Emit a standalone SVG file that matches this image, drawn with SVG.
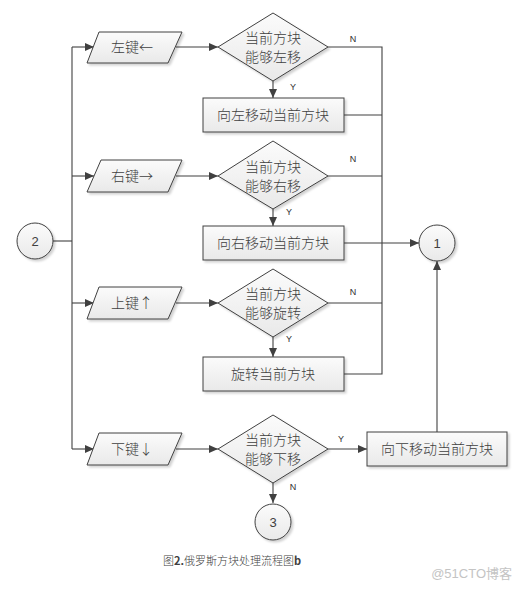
<svg xmlns="http://www.w3.org/2000/svg" width="523" height="589" viewBox="0 0 523 589">
<style>
.s{stroke:#404040;stroke-width:1;fill:url(#g);filter:url(#sh)}
.l{stroke:#404040;stroke-width:1.1;fill:none}
.a{marker-end:url(#ar)}
.t{font-family:"Noto Sans CJK SC","Liberation Sans",sans-serif;font-size:14px;font-weight:300;fill:#404040;text-anchor:middle}
.n{font-family:"Liberation Sans",sans-serif;font-size:13px;fill:#404040;text-anchor:middle}
.lb{font-family:"Liberation Sans",sans-serif;font-size:9px;fill:#303030;text-anchor:middle}
</style>
<defs>
<linearGradient id="g" x1="0" y1="0" x2="0" y2="1"><stop offset="0" stop-color="#fbfbfb"/><stop offset="1" stop-color="#e9e9e9"/></linearGradient>
<filter id="sh" x="-10%" y="-10%" width="130%" height="140%"><feDropShadow dx="2" dy="2" stdDeviation="1" flood-color="#000" flood-opacity="0.18"/></filter>
<marker id="ar" markerWidth="10" markerHeight="10" refX="9" refY="5" orient="auto" markerUnits="userSpaceOnUse"><path d="M0,1 L9,5 L0,9 Z" fill="#404040"/></marker>
</defs>
<rect width="523" height="589" fill="#fff"/>
<g id="connectors">
<path class="l" d="M53,241 H72"/>
<path class="l" d="M72,47 V449"/>
<path class="l a" d="M72,47 H94"/>
<path class="l a" d="M72,176 H94"/>
<path class="l a" d="M72,303 H94"/>
<path class="l a" d="M72,449 H94"/>
<path class="l a" d="M176,47 H218"/>
<path class="l a" d="M176,176 H218"/>
<path class="l a" d="M176,303 H218"/>
<path class="l a" d="M176,449 H218"/>
<path class="l a" d="M273,81 V98"/>
<path class="l a" d="M273,209 V226"/>
<path class="l a" d="M273,337 V357"/>
<path class="l a" d="M273,483 V503"/>
<path class="l" d="M328,47 H382 V374 H344"/>
<path class="l" d="M328,176 H382"/>
<path class="l" d="M328,303 H382"/>
<path class="l" d="M344,115 H382"/>
<path class="l a" d="M344,243 H419"/>
<path class="l a" d="M328,449 H367"/>
<path class="l a" d="M437,432 V261"/>
<text class="lb" x="353" y="42">N</text>
<text class="lb" x="353" y="162">N</text>
<text class="lb" x="353" y="295">N</text>
<text class="lb" x="293" y="90">Y</text>
<text class="lb" x="289" y="215">Y</text>
<text class="lb" x="289" y="342">Y</text>
<text class="lb" x="341" y="442">Y</text>
<text class="lb" x="293" y="490">N</text>
</g>
<g id="c2"><circle class="s" cx="35" cy="241" r="18"/><text class="n" x="35" y="246">2</text></g>
<g id="k1"><polygon class="s" points="99,32 182,32 168,63 87,63"/><text class="t" x="132" y="52">左键←</text></g>
<g id="k2"><polygon class="s" points="101,160 182,160 168,192 87,192"/><text class="t" x="132" y="181">右键→</text></g>
<g id="k3"><polygon class="s" points="99,287 182,287 168,319 87,319"/><text class="t" x="132" y="308">上键↑</text></g>
<g id="k4"><polygon class="s" points="99,433 182,433 168,465 87,465"/><text class="t" x="132" y="454">下键↓</text></g>
<g id="d1"><polygon class="s" points="273,13 328,47 273,81 218,47"/><text class="t" x="273" y="43">当前方块</text><text class="t" x="273" y="62">能够左移</text></g>
<g id="d2"><polygon class="s" points="273,141 328,176 273,209 218,176"/><text class="t" x="273" y="172">当前方块</text><text class="t" x="273" y="191">能够右移</text></g>
<g id="d3"><polygon class="s" points="273,269 328,303 273,337 218,303"/><text class="t" x="273" y="299">当前方块</text><text class="t" x="273" y="318">能够旋转</text></g>
<g id="d4"><polygon class="s" points="273,415 328,449 273,483 218,449"/><text class="t" x="273" y="445">当前方块</text><text class="t" x="273" y="464">能够下移</text></g>
<g id="r1"><rect class="s" x="203" y="98" width="141" height="34"/><text class="t" x="273" y="120">向左移动当前方块</text></g>
<g id="r2"><rect class="s" x="203" y="226" width="141" height="34"/><text class="t" x="273" y="248">向右移动当前方块</text></g>
<g id="r3"><rect class="s" x="203" y="357" width="141" height="34"/><text class="t" x="273" y="379">旋转当前方块</text></g>
<g id="r4"><rect class="s" x="367" y="432" width="140" height="34"/><text class="t" x="437" y="454">向下移动当前方块</text></g>
<g id="c1"><circle class="s" cx="437" cy="243" r="18"/><text class="n" x="437" y="248">1</text></g>
<g id="c3"><circle class="s" cx="273" cy="522" r="18"/><text class="n" x="273" y="527">3</text></g>
<text x="163" y="565" style="font-family:'Noto Sans CJK SC','Liberation Sans',sans-serif;font-size:11px;font-weight:300;fill:#404040">图<tspan font-weight="bold">2.</tspan>俄罗斯方块处理流程图<tspan font-weight="bold">b</tspan></text>
<text x="512" y="578" style="font-family:'Liberation Sans','Noto Sans CJK SC',sans-serif;font-size:13px;fill:#c4c4c4;text-anchor:end">@51CTO博客</text>
</svg>
